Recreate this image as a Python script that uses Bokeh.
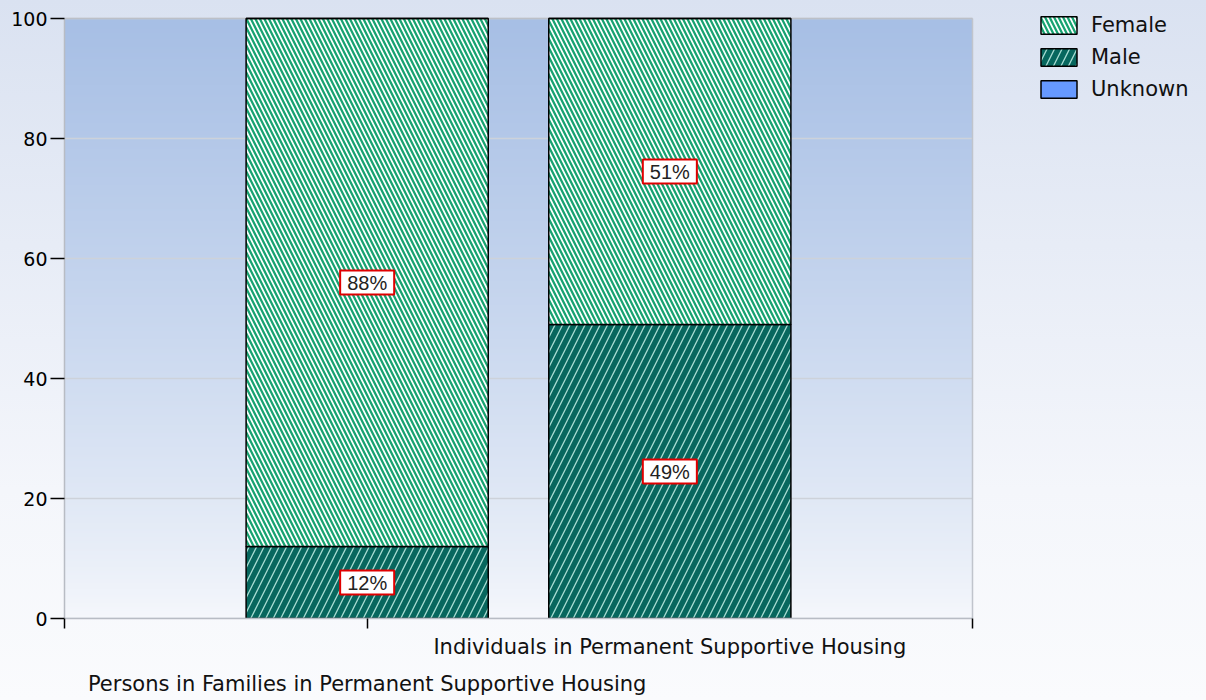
import numpy as np
from bokeh.plotting import figure
from bokeh.models import (ColumnDataSource, Label, Legend, LegendItem, FixedTicker,
                          Range1d, LinearAxis)
from bokeh.embed import file_html
from bokeh.resources import INLINE

# ---- data ----
categories = ["Persons in Families in Permanent Supportive Housing",
              "Individuals in Permanent Supportive Housing"]
cat_pos = [1, 2]
male = [12, 49]
female = [88, 51]
unknown = [0, 0]
y_ticks = [0, 20, 40, 60, 80, 100]

FONT = "DejaVu Sans"
X_END = 3.0          # category axis extent
Y_END = 100.0        # value axis extent
PX_X = 908 / X_END   # pixels per x unit of the plotting area
PX_Y = 600 / Y_END

FRAME_W = 1206 - 64
FRAME_H = 613
p = figure(frame_width=FRAME_W, frame_height=FRAME_H, output_backend="svg",
           toolbar_location=None,
           x_range=Range1d(0, FRAME_W / PX_X), y_range=Range1d(0, FRAME_H / PX_Y),
           min_border_left=64, min_border_top=5, min_border_right=0,
           min_border_bottom=82)
p.border_fill_alpha = 0
p.background_fill_alpha = 0
p.styles = {"background": "linear-gradient(#dae2f1, #f4f6fb 70%, #fafbfd)"}
p.outline_line_color = None

# gradient of the plotting area
N = 300
t = np.linspace(0, 1, N)  # 0 bottom, 1 top
ease = t ** 0.8
bot = np.array([0xf6, 0xf8, 0xfc])
top = np.array([0xa7, 0xbf, 0xe5])
cols = (bot[None, :] * (1 - ease[:, None]) + top[None, :] * ease[:, None]).astype(np.uint32)
img = np.empty((N, 1), dtype=np.uint32)
view = img.view(dtype=np.uint8).reshape((N, 1, 4))
view[:, 0, 0] = cols[:, 0]
view[:, 0, 1] = cols[:, 1]
view[:, 0, 2] = cols[:, 2]
view[:, 0, 3] = 255
ir = p.image_rgba(image=[img], x=0, y=0, dw=X_END, dh=Y_END)
ir.level = "image"

# grid lines limited to the plotting area, plus its right and top edges
gl = p.segment(x0=[0] * len(y_ticks), x1=[X_END] * len(y_ticks), y0=y_ticks, y1=y_ticks,
               line_color="#cdd2da", line_width=1.5)
gl.level = "underlay"
p.segment(x0=[X_END], x1=[X_END], y0=[0], y1=[Y_END], line_color="#c0c4cc",
          line_width=1.5).level = "underlay"
p.segment(x0=[0], x1=[X_END], y0=[Y_END], y1=[Y_END], line_color="#bcc0c8",
          line_width=1.5).level = "underlay"

src = ColumnDataSource(dict(x=cat_pos, male=male, female=female, unknown=unknown))
src.data["mf"] = [m + f for m, f in zip(male, female)]
src.data["mfu"] = [m + f + u for m, f, u in zip(male, female, unknown)]

r_male = p.vbar(x="x", width=0.8, bottom=0, top="male", source=src,
                fill_color="#07675e", line_color="black", line_width=1.5,
                hatch_pattern="right_diagonal_line", hatch_color="#a6dcd2",
                hatch_scale=15, hatch_weight=1.3)
r_female = p.vbar(x="x", width=0.8, bottom="male", top="mf", source=src,
                  fill_color="white", line_color="black", line_width=1.5,
                  hatch_pattern="left_diagonal_line", hatch_color="#17a371",
                  hatch_scale=9, hatch_weight=2.3)
r_unknown = p.vbar(x="x", width=0.8, bottom="mf", top="mfu", source=src,
                   fill_color="#6699ff", line_color="black", line_width=1.5)

# value labels
for x, m, f in zip(cat_pos, male, female):
    for val, ymid in ((m, m / 2), (f, m + f / 2)):
        if val > 0:
            p.add_layout(Label(x=x, y=ymid, text=f"{val}%", text_align="center",
                               text_baseline="middle", text_font="Liberation Sans",
                               text_font_size="20px", text_color="#222222",
                               background_fill_color="white",
                               border_line_color="#e00000", border_line_width=2,
                               padding=(7, 1)))

# axes
p.xgrid.visible = False
p.ygrid.visible = False

p.yaxis.ticker = FixedTicker(ticks=y_ticks)
p.yaxis.bounds = (0, Y_END)
p.yaxis.axis_line_color = "#b8bcc4"
p.yaxis.axis_line_width = 1.5
p.yaxis.major_tick_line_color = "black"
p.yaxis.major_tick_line_width = 1.5
p.yaxis.major_tick_out = 14
p.yaxis.major_tick_in = 0
p.yaxis.minor_tick_line_color = None
p.yaxis.major_label_text_font = FONT
p.yaxis.major_label_text_font_size = "19px"
p.yaxis.major_label_text_color = "black"
p.yaxis.major_label_standoff = 3

p.xaxis.ticker = FixedTicker(ticks=[0, 1, 3])
p.xaxis.bounds = (0, X_END)
p.xaxis.major_label_overrides = {0: "", 1: "", 3: ""}
p.xaxis.major_label_text_font_size = "1px"
p.xaxis.major_label_standoff = 0
p.xaxis.axis_line_color = "#b8bcc4"
p.xaxis.axis_line_width = 1.5
p.xaxis.major_tick_line_color = "black"
p.xaxis.major_tick_line_width = 1.5
p.xaxis.major_tick_out = 10
p.xaxis.major_tick_in = 0
p.xaxis.minor_tick_line_color = None

# category labels (staggered rows)
standoffs = [10, 6]
for i in (1, 0):
    ax = LinearAxis(ticker=FixedTicker(ticks=[cat_pos[i]]),
                    major_label_overrides={cat_pos[i]: categories[i]},
                    axis_line_color=None, major_tick_line_color=None,
                    minor_tick_line_color=None, major_tick_out=0, major_tick_in=0,
                    major_label_standoff=standoffs[i],
                    major_label_text_font=FONT, major_label_text_font_size="21px",
                    major_label_text_color="#111111")
    p.add_layout(ax, "below")

legend_h = 3 * 24 + 2 * 8
legend = Legend(items=[LegendItem(label="Female", renderers=[r_female]),
                       LegendItem(label="Male", renderers=[r_male]),
                       LegendItem(label="Unknown", renderers=[r_unknown])],
                location=(972, FRAME_H - 8 - legend_h), orientation="vertical")
legend.background_fill_alpha = 0
legend.border_line_color = None
legend.padding = 0
legend.margin = 0
legend.glyph_width = 45
legend.glyph_height = 22
legend.spacing = 8
legend.label_standoff = 10
legend.label_text_font = FONT
legend.label_text_font_size = "21px"
legend.label_text_color = "#111111"
legend.label_height = 24
p.add_layout(legend, "center")

open("out.html", "w").write(file_html(p, INLINE))
